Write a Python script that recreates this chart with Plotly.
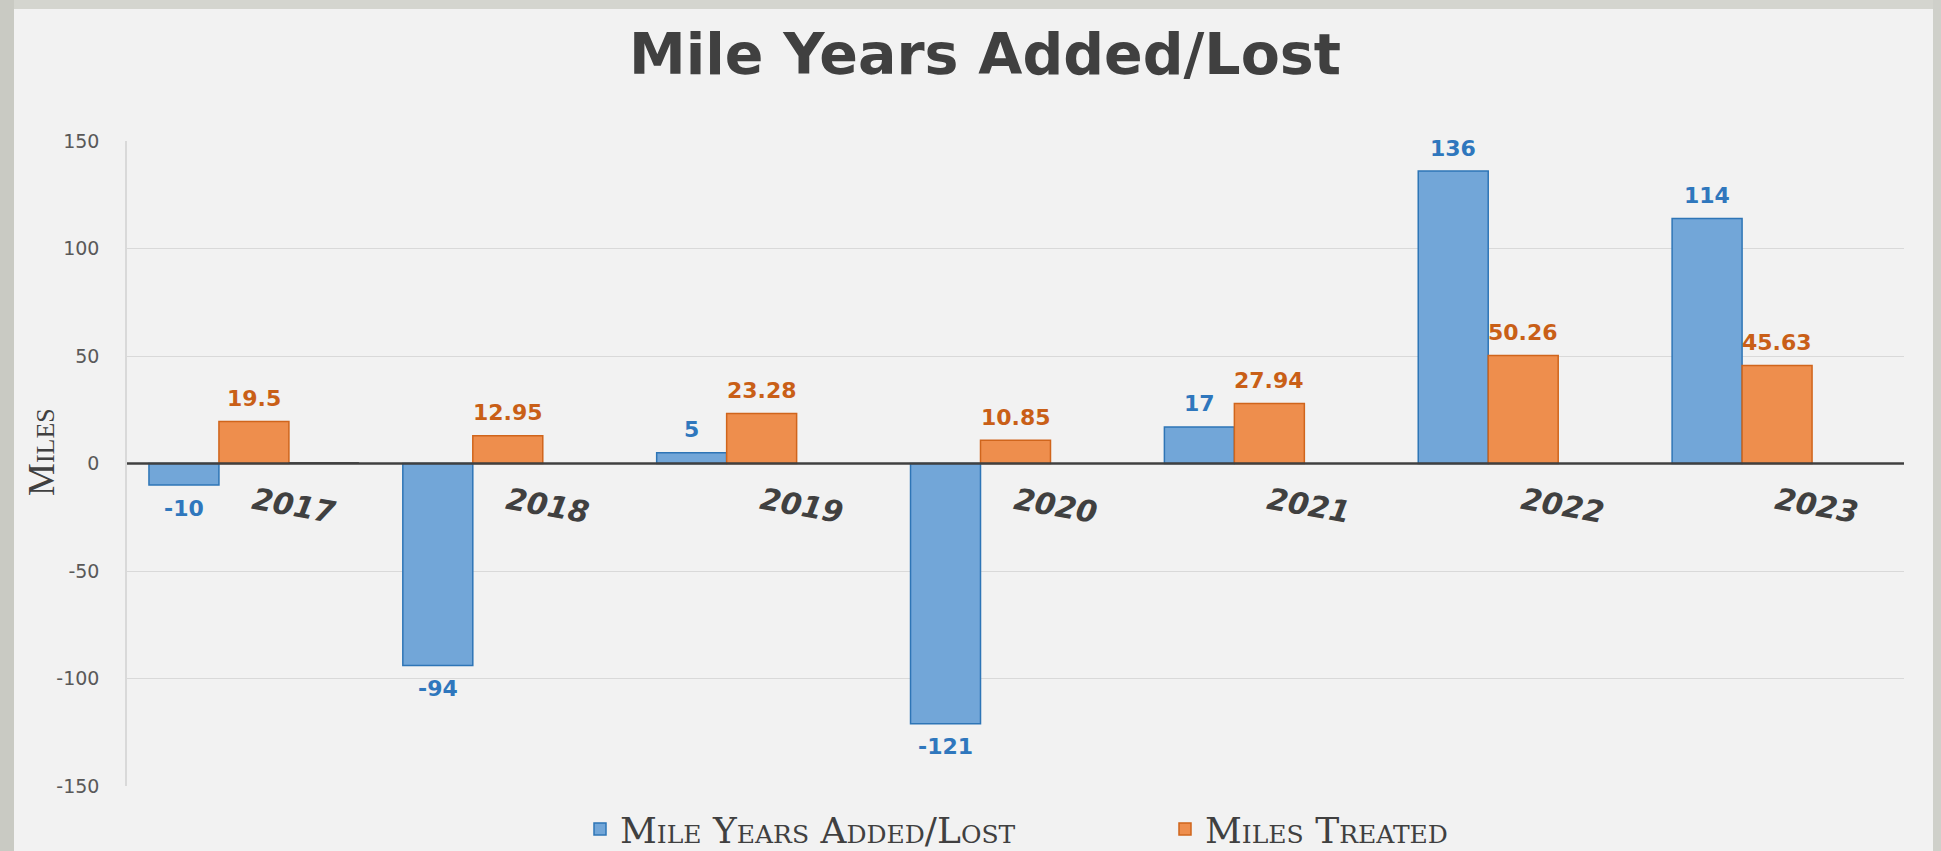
import plotly.graph_objects as go

# ---------------- data ----------------
years = ["2017", "2018", "2019", "2020", "2021", "2022", "2023"]
mile_years_added_lost = [-10, -94, 5, -121, 17, 136, 114]
miles_treated = [19.5, 12.95, 23.28, 10.85, 27.94, 50.26, 45.63]
third_series = [0.6, 0, 0, 0, 0, 0, 0]

y_ticks = [-150, -100, -50, 0, 50, 100, 150]

# ---------------- geometry ----------------
W, H = 1941, 851
L, R, T, B = 127, 37, 141, 65
PW, PH = W - L - R, H - T - B


def px_x(px):
    return (px - L) / PW


def px_y(py):
    return (H - B - py) / PH


BARGAP = 0.173
BW = (1 - BARGAP) / 3
CAT_PX = PW / len(years)

BLUE_FILL, BLUE_LINE, BLUE_TEXT = "#72a6d8", "#2e75b6", "#2f77bd"
ORANGE_FILL, ORANGE_LINE, ORANGE_TEXT = "#ee8e4d", "#d0651c", "#c95f17"

x_idx = list(range(len(years)))

fig = go.Figure()
fig.add_bar(x=x_idx, y=mile_years_added_lost, name="Mile Years Added/Lost",
            marker=dict(color=BLUE_FILL, line=dict(color=BLUE_LINE, width=1.5)))
fig.add_bar(x=x_idx, y=miles_treated, name="Miles Treated",
            marker=dict(color=ORANGE_FILL, line=dict(color=ORANGE_LINE, width=1.5)))
fig.add_bar(x=x_idx, y=third_series, name="", showlegend=False,
            marker=dict(color="#595959", line=dict(width=0)))

annotations = []
label_font = "DejaVu Sans"
for i, v in enumerate(mile_years_added_lost):
    annotations.append(dict(x=i - BW, y=v, xref="x", yref="y", text=str(v), showarrow=False,
                            yshift=23 if v >= 0 else -23, yanchor="middle",
                            font=dict(family=label_font, size=22, color=BLUE_TEXT, weight="bold")))
for i, v in enumerate(miles_treated):
    annotations.append(dict(x=i, y=v, xref="x", yref="y", text=f"{v:g}", showarrow=False,
                            yshift=23 if v >= 0 else -23, yanchor="middle",
                            font=dict(family=label_font, size=22, color=ORANGE_TEXT, weight="bold")))
# year labels (rotated, italic bold)
for i, yr in enumerate(years):
    annotations.append(dict(x=i + 40 / CAT_PX, y=0, xref="x", yref="y", text=yr, showarrow=False,
                            yshift=-42, textangle=10, xanchor="center", yanchor="middle",
                            font=dict(family=label_font, size=30, color="#404040",
                                      weight="bold", style="italic")))
# title
annotations.append(dict(x=px_x(985), y=px_y(54), xref="paper", yref="paper",
                        text="Mile Years Added/Lost", showarrow=False,
                        xanchor="center", yanchor="middle",
                        font=dict(family="DejaVu Sans", size=57, color="#404040", weight="bold")))
# y axis title
annotations.append(dict(x=px_x(41), y=px_y(452), xref="paper", yref="paper",
                        text="Miles", showarrow=False, textangle=-90,
                        xanchor="center", yanchor="middle",
                        font=dict(family="Liberation Serif", size=37, color="#404040",
                                  variant="small-caps")))

shapes = [
    # zero line drawn over bars
    dict(type="line", xref="paper", yref="y", x0=0, x1=1, y0=0, y1=0,
         line=dict(color="#404040", width=2.5), layer="above"),
    # outer frame strips
    dict(type="rect", xref="paper", yref="paper", x0=px_x(0), x1=px_x(W), y0=px_y(0), y1=px_y(9),
         fillcolor="#d4d5cf", line=dict(width=0), layer="above"),
    dict(type="rect", xref="paper", yref="paper", x0=px_x(0), x1=px_x(14), y0=px_y(0), y1=px_y(H),
         fillcolor="#c9cac3", line=dict(width=0), layer="above"),
    dict(type="rect", xref="paper", yref="paper", x0=px_x(1933), x1=px_x(W), y0=px_y(0), y1=px_y(H),
         fillcolor="#cfd0ca", line=dict(width=0), layer="above"),
]

fig.update_layout(
    width=W, height=H,
    margin=dict(l=L, r=R, t=T, b=B, autoexpand=False),
    paper_bgcolor="#f2f2f2", plot_bgcolor="#f2f2f2",
    barmode="group", bargap=BARGAP, bargroupgap=0,
    showlegend=True,
    legend=dict(orientation="h", x=px_x(1165), xanchor="center", y=px_y(829), yanchor="middle",
                font=dict(family="DejaVu Serif", size=36, color="#404040", variant="small-caps"),
                bgcolor="rgba(0,0,0,0)", traceorder="normal",
                entrywidth=540, entrywidthmode="pixels"),
    xaxis=dict(range=[-0.5, len(years) - 0.5], showticklabels=False, showgrid=False,
               zeroline=False, showline=False, fixedrange=True),
    yaxis=dict(range=[-150, 150], tickvals=y_ticks, ticktext=[str(t) for t in y_ticks],
               showgrid=True, gridcolor="#d9d9d9", gridwidth=1,
               showline=True, linecolor="#d9d9d9", linewidth=1.5,
               zeroline=False, ticks="", ticklabelstandoff=22,
               tickfont=dict(family="DejaVu Sans", size=19, color="#595959"), fixedrange=True),
    annotations=annotations,
    shapes=shapes,
    hovermode=False,
)

fig.write_html("out.html", config={"displayModeBar": False},
               post_script="document.body.style.margin='0';document.body.style.overflow='hidden';")
